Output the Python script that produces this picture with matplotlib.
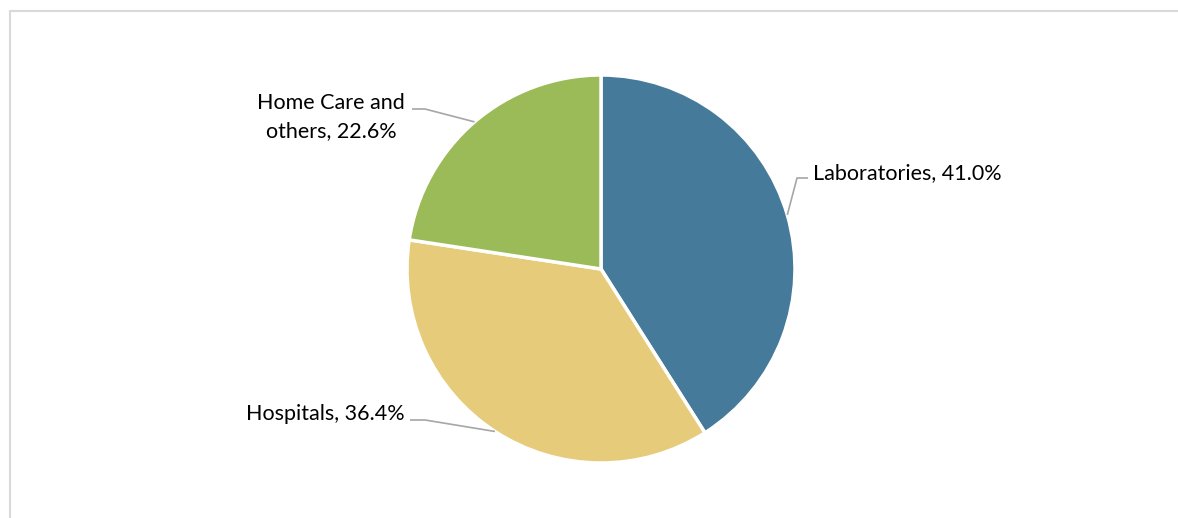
import numpy as np
import matplotlib as mpl
mpl.use('Agg')
import matplotlib.pyplot as plt

categories = ['Laboratories', 'Hospitals', 'Home Care and\nothers']
shares = [41.0, 36.4, 22.6]
colors = ['#467A9A', '#E6CC7A', '#9BBB59']

W, H = 1178, 518
cx, cy, r = 601, 269, 194

plt.rcParams['font.family'] = ['Lato', 'DejaVu Sans']

fig = plt.figure(figsize=(W / 100, H / 100), dpi=100)
ax = fig.add_axes([0, 0, 1, 1])

# chart frame (open at right and bottom, as in the cropped reference)
ax.plot([10, 10, W], [0, H - 11, H - 11], color='#D9D9D9', lw=1.5)

wedges, _ = ax.pie(shares, colors=colors, startangle=90, counterclock=False,
                   center=(cx, H - cy), radius=r, frame=True,
                   wedgeprops=dict(edgecolor='white', linewidth=2.5))
ax.set_xlim(0, W)
ax.set_ylim(0, H)
ax.set_aspect('equal')
ax.axis('off')

# label layout: (elbow point, line end, text anchor, ha)
layout = [
    ((797, 178), (808, 178), (813, 173), 'left'),
    ((425, 420), (410, 420), (405, 414), 'right'),
    ((425, 109), (412, 109), (331, 117), 'center'),
]

for w, cat, s, (elb, end, txt, ha) in zip(wedges, categories, shares, layout):
    mid = np.deg2rad((w.theta1 + w.theta2) / 2)
    sx, sy = cx + r * np.cos(mid), (H - cy) + r * np.sin(mid)
    ax.plot([sx, elb[0], end[0]], [sy, H - elb[1], H - end[1]],
            color='#A6A6A6', lw=1.2, solid_capstyle='butt')
    ax.text(txt[0], H - txt[1], f'{cat}, {s:.1f}%', ha=ha, va='center',
            fontsize=15.5, color='black', linespacing=1.5)

fig.savefig('out.png', dpi=100)
